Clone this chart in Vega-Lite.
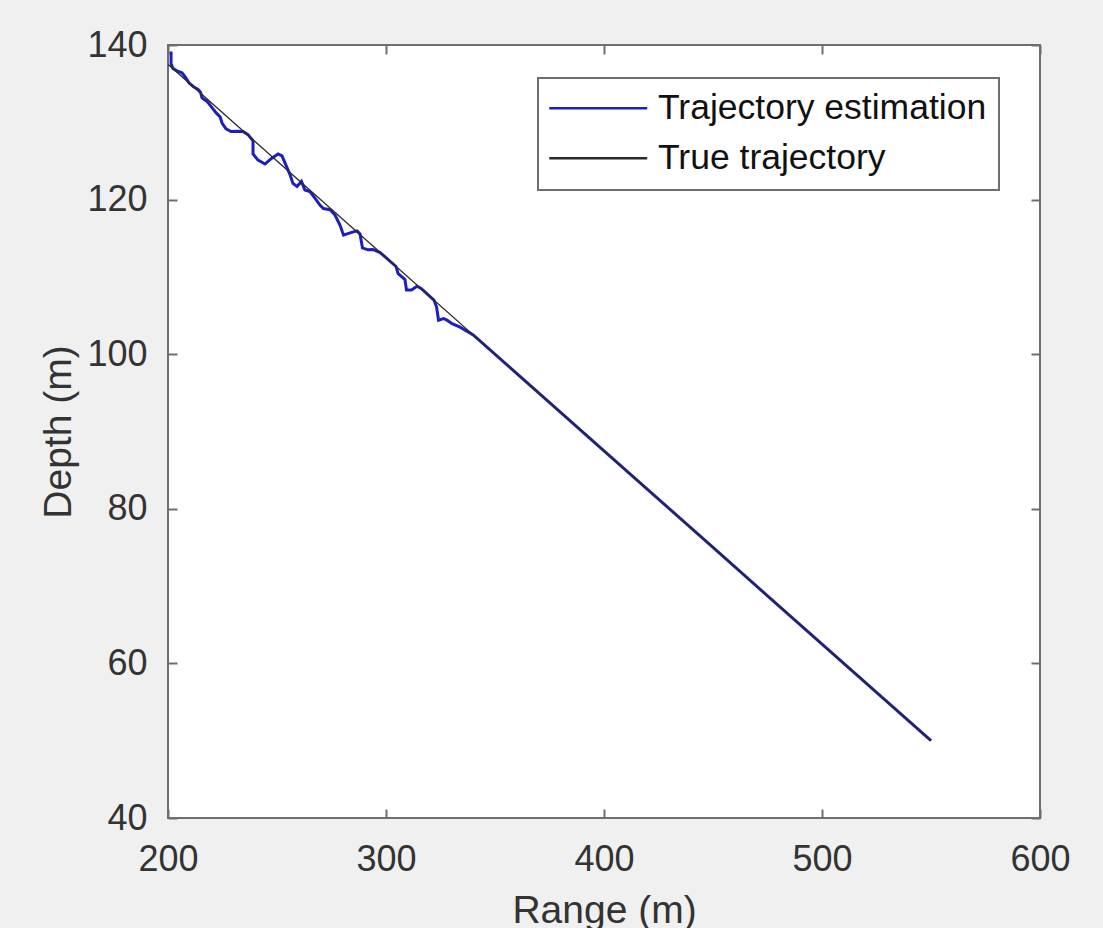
{
  "$schema": "https://vega.github.io/schema/vega-lite/v6.json",
  "width": 872,
  "height": 773,
  "autosize": "none",
  "padding": {"left": 168, "top": 45, "right": 63, "bottom": 110},
  "background": "#f0f0f0",
  "config": {
    "font": "Liberation Sans",
    "view": {"fill": "white", "stroke": "#6e6e6e", "strokeWidth": 2},
    "axis": {
      "grid": false,
      "domain": false,
      "labelFlush": false,
      "tickColor": "#6e6e6e",
      "tickWidth": 2,
      "tickSize": -9,
      "labelFont": "Liberation Sans",
      "labelFontSize": 36,
      "labelColor": "#333333",
      "titleFont": "Liberation Sans",
      "titleFontSize": 39,
      "titleColor": "#333333",
      "titleFontWeight": "normal"
    },
    "legend": {
      "orient": "none",
      "legendX": 370,
      "legendY": 33,
      "fillColor": "white",
      "strokeColor": "#6e6e6e",
      "strokeWidth": 2,
      "padding": 12.5,
      "symbolType": "M-1.94,0H8.06",
      "symbolSize": 384,
      "symbolStrokeWidth": 2.4,
      "labelFont": "Liberation Sans",
      "labelFontSize": 35.5,
      "labelColor": "#111111",
      "labelOffset": 72,
      "labelLimit": 600,
      "rowPadding": 13
    }
  },
  "datasets": {
    "traj": [
      {"series": "Trajectory estimation", "i": 1, "range": 201.4, "depth": 139.15},
      {"series": "Trajectory estimation", "i": 2, "range": 201.4, "depth": 137.6},
      {"series": "Trajectory estimation", "i": 3, "range": 202.3, "depth": 136.95},
      {"series": "Trajectory estimation", "i": 4, "range": 204.1, "depth": 136.65},
      {"series": "Trajectory estimation", "i": 5, "range": 206.4, "depth": 136.4},
      {"series": "Trajectory estimation", "i": 6, "range": 207.8, "depth": 135.9},
      {"series": "Trajectory estimation", "i": 7, "range": 209.6, "depth": 135.1},
      {"series": "Trajectory estimation", "i": 8, "range": 211.7, "depth": 134.6},
      {"series": "Trajectory estimation", "i": 9, "range": 213.8, "depth": 134.25},
      {"series": "Trajectory estimation", "i": 10, "range": 214.9, "depth": 133.9},
      {"series": "Trajectory estimation", "i": 11, "range": 215.6, "depth": 133.15},
      {"series": "Trajectory estimation", "i": 12, "range": 217.9, "depth": 132.7},
      {"series": "Trajectory estimation", "i": 13, "range": 220.2, "depth": 131.9},
      {"series": "Trajectory estimation", "i": 14, "range": 222.0, "depth": 131.25},
      {"series": "Trajectory estimation", "i": 15, "range": 223.9, "depth": 130.7},
      {"series": "Trajectory estimation", "i": 16, "range": 224.8, "depth": 129.9},
      {"series": "Trajectory estimation", "i": 17, "range": 226.6, "depth": 129.15},
      {"series": "Trajectory estimation", "i": 18, "range": 228.9, "depth": 128.8},
      {"series": "Trajectory estimation", "i": 19, "range": 231.7, "depth": 128.85},
      {"series": "Trajectory estimation", "i": 20, "range": 234.4, "depth": 128.8},
      {"series": "Trajectory estimation", "i": 21, "range": 236.7, "depth": 128.4},
      {"series": "Trajectory estimation", "i": 22, "range": 239.0, "depth": 127.6},
      {"series": "Trajectory estimation", "i": 23, "range": 239.0, "depth": 125.9},
      {"series": "Trajectory estimation", "i": 24, "range": 241.3, "depth": 125.1},
      {"series": "Trajectory estimation", "i": 25, "range": 244.5, "depth": 124.6},
      {"series": "Trajectory estimation", "i": 26, "range": 247.3, "depth": 125.3},
      {"series": "Trajectory estimation", "i": 27, "range": 250.5, "depth": 125.9},
      {"series": "Trajectory estimation", "i": 28, "range": 252.3, "depth": 125.65},
      {"series": "Trajectory estimation", "i": 29, "range": 256.0, "depth": 123.2},
      {"series": "Trajectory estimation", "i": 30, "range": 257.3, "depth": 122.1},
      {"series": "Trajectory estimation", "i": 31, "range": 259.2, "depth": 121.7},
      {"series": "Trajectory estimation", "i": 32, "range": 261.2, "depth": 122.35},
      {"series": "Trajectory estimation", "i": 33, "range": 262.8, "depth": 121.25},
      {"series": "Trajectory estimation", "i": 34, "range": 265.1, "depth": 121.05},
      {"series": "Trajectory estimation", "i": 35, "range": 267.4, "depth": 120.2},
      {"series": "Trajectory estimation", "i": 36, "range": 269.7, "depth": 119.3},
      {"series": "Trajectory estimation", "i": 37, "range": 271.3, "depth": 118.85},
      {"series": "Trajectory estimation", "i": 38, "range": 274.3, "depth": 118.7},
      {"series": "Trajectory estimation", "i": 39, "range": 276.6, "depth": 118.0},
      {"series": "Trajectory estimation", "i": 40, "range": 278.9, "depth": 116.7},
      {"series": "Trajectory estimation", "i": 41, "range": 280.5, "depth": 115.4},
      {"series": "Trajectory estimation", "i": 42, "range": 283.5, "depth": 115.7},
      {"series": "Trajectory estimation", "i": 43, "range": 286.7, "depth": 115.95},
      {"series": "Trajectory estimation", "i": 44, "range": 288.1, "depth": 115.55},
      {"series": "Trajectory estimation", "i": 45, "range": 289.2, "depth": 113.75},
      {"series": "Trajectory estimation", "i": 46, "range": 291.7, "depth": 113.5},
      {"series": "Trajectory estimation", "i": 47, "range": 294.0, "depth": 113.55},
      {"series": "Trajectory estimation", "i": 48, "range": 297.3, "depth": 113.15},
      {"series": "Trajectory estimation", "i": 49, "range": 304.6, "depth": 111.35},
      {"series": "Trajectory estimation", "i": 50, "range": 305.5, "depth": 110.45},
      {"series": "Trajectory estimation", "i": 51, "range": 307.3, "depth": 110.0},
      {"series": "Trajectory estimation", "i": 52, "range": 308.7, "depth": 109.65},
      {"series": "Trajectory estimation", "i": 53, "range": 309.4, "depth": 108.3},
      {"series": "Trajectory estimation", "i": 54, "range": 311.7, "depth": 108.3},
      {"series": "Trajectory estimation", "i": 55, "range": 314.2, "depth": 108.8},
      {"series": "Trajectory estimation", "i": 56, "range": 316.1, "depth": 108.5},
      {"series": "Trajectory estimation", "i": 57, "range": 322.0, "depth": 107.0},
      {"series": "Trajectory estimation", "i": 58, "range": 323.2, "depth": 106.1},
      {"series": "Trajectory estimation", "i": 59, "range": 324.1, "depth": 104.4},
      {"series": "Trajectory estimation", "i": 60, "range": 326.4, "depth": 104.6},
      {"series": "Trajectory estimation", "i": 61, "range": 328.0, "depth": 104.4},
      {"series": "Trajectory estimation", "i": 62, "range": 330.3, "depth": 103.95},
      {"series": "Trajectory estimation", "i": 63, "range": 334.0, "depth": 103.5},
      {"series": "Trajectory estimation", "i": 64, "range": 340.0, "depth": 102.5},
      {"series": "Trajectory estimation", "i": 65, "range": 400.0, "depth": 87.5},
      {"series": "Trajectory estimation", "i": 66, "range": 450.0, "depth": 75.0},
      {"series": "Trajectory estimation", "i": 67, "range": 500.0, "depth": 62.5},
      {"series": "Trajectory estimation", "i": 68, "range": 550.0, "depth": 50.0},
      {"series": "True trajectory", "i": 1, "range": 200.0, "depth": 137.5},
      {"series": "True trajectory", "i": 2, "range": 550.0, "depth": 50.0}
    ]
  },
  "data": {"name": "traj"},
  "resolve": {"axis": {"x": "independent", "y": "independent"}},
  "layer": [
    {
      "transform": [{"filter": "datum.series === 'Trajectory estimation'"}],
      "mark": {"type": "line", "strokeWidth": 3, "clip": true},
      "encoding": {
        "x": {"field": "range", "type": "quantitative",
              "scale": {"domain": [200, 600], "nice": false, "zero": false},
              "axis": {"orient": "bottom", "values": [200, 300, 400, 500, 600], "title": "Range (m)", "labelPadding": 33, "titlePadding": 14}},
        "y": {"field": "depth", "type": "quantitative",
              "scale": {"domain": [40, 140], "nice": false, "zero": false},
              "axis": {"orient": "left", "values": [40, 60, 80, 100, 120, 140], "title": "Depth (m)", "labelPadding": 30, "titlePadding": 8}},
        "order": {"field": "i", "type": "quantitative"},
        "color": {"field": "series", "type": "nominal",
                  "scale": {"domain": ["Trajectory estimation", "True trajectory"], "range": ["#1e1ebe", "#2a2a2a"]},
                  "legend": {"title": null}}
      }
    },
    {
      "transform": [{"filter": "datum.series === 'True trajectory'"}],
      "mark": {"type": "line", "strokeWidth": 1.3, "clip": true},
      "encoding": {
        "x": {"field": "range", "type": "quantitative",
              "scale": {"domain": [200, 600], "nice": false, "zero": false},
              "axis": {"orient": "top", "values": [200, 300, 400, 500, 600], "labels": false, "title": null}},
        "y": {"field": "depth", "type": "quantitative",
              "scale": {"domain": [40, 140], "nice": false, "zero": false},
              "axis": {"orient": "right", "values": [40, 60, 80, 100, 120, 140], "labels": false, "title": null}},
        "order": {"field": "i", "type": "quantitative"},
        "color": {"field": "series", "type": "nominal",
                  "scale": {"domain": ["Trajectory estimation", "True trajectory"], "range": ["#1e1ebe", "#2a2a2a"]},
                  "legend": {"title": null}}
      }
    }
  ]
}
